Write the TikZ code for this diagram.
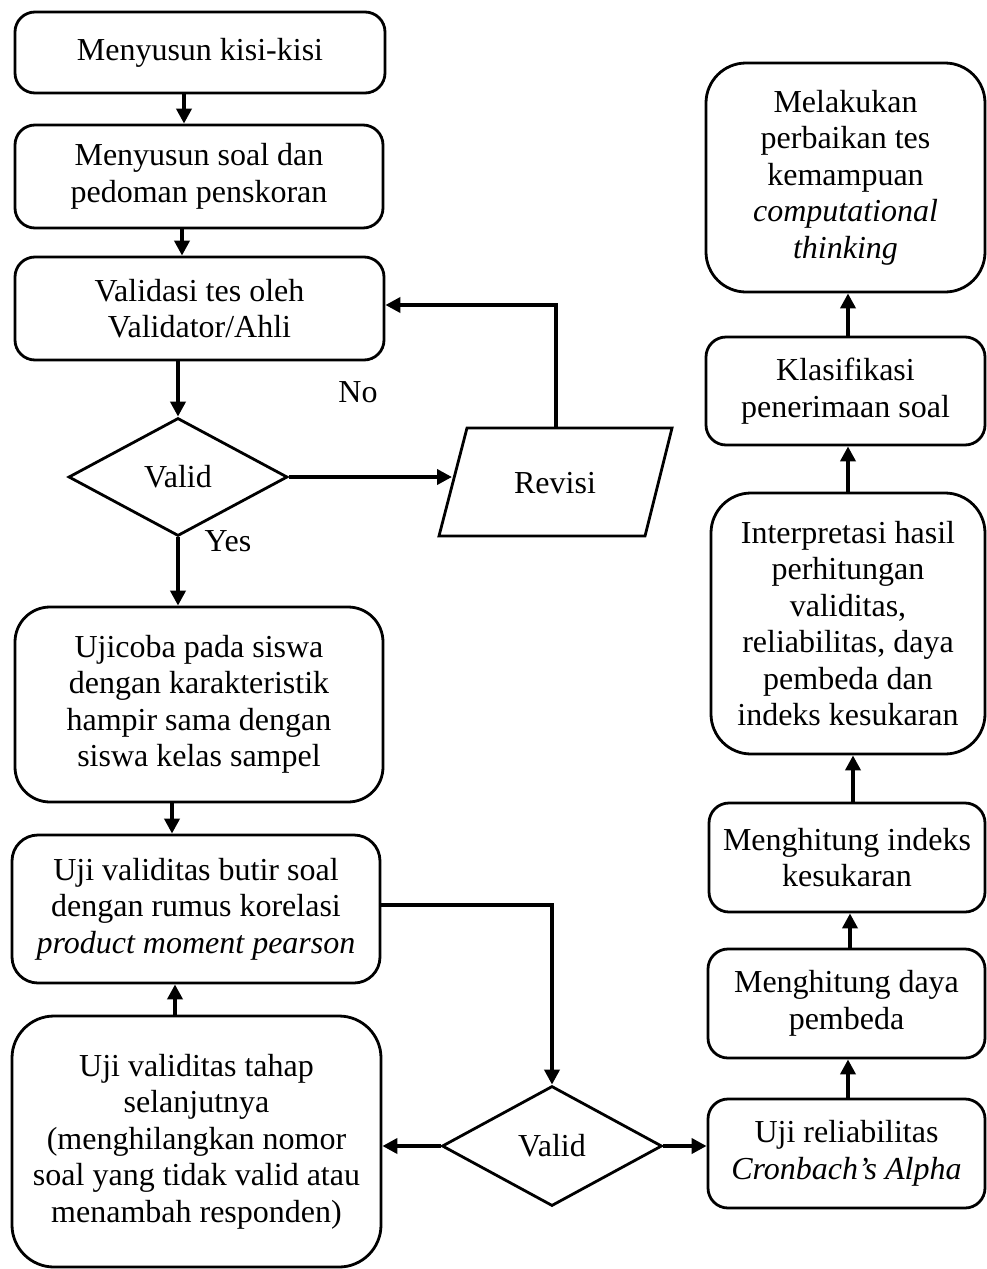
\documentclass[tikz,border=0pt]{standalone}
\usepackage{fontspec}
\setmainfont{Liberation Serif}
\usetikzlibrary{shapes.geometric,arrows.meta}
\begin{document}
\begin{tikzpicture}[x=1pt,y=-1pt,
  every node/.style={font=\fontsize{32}{36.5}\selectfont},
  box/.style={draw, line width=2.8pt, rounded corners=20pt, align=center, inner sep=0pt},
  decision/.style={draw, diamond, line width=2.8pt, inner sep=0pt},
  arr/.style={line width=3.8pt, -{Triangle[width=15pt,length=15pt]}}]
\useasboundingbox (0,0) rectangle (986,1269);

% left column
\node[box, minimum width=370pt, minimum height=81pt] (b1) at (200,52.5) {Menyusun kisi-kisi};
\node[box, minimum width=368pt, minimum height=103pt] (b2) at (199,176.5) {Menyusun soal dan\\pedoman penskoran};
\node[box, minimum width=369pt, minimum height=103pt] (b3) at (199.5,308.5) {Validasi tes oleh\\Validator/Ahli};
\node[decision, minimum width=219pt, minimum height=118pt] (d1) at (178,477) {Valid};
\node (rev) at (555,483) {Revisi};
\draw[line width=2.8pt] (467,428) -- (672,428) -- (645,536) -- (439,536) -- cycle;
\coordinate (revin) at (452,477);
\coordinate (revtop) at (556,428);
\node[box, rounded corners=35pt, minimum width=368pt, minimum height=195pt] (b4) at (199,704.5)
  {Ujicoba pada siswa\\dengan karakteristik\\hampir sama dengan\\siswa kelas sampel};
\node[box, rounded corners=26pt, minimum width=368pt, minimum height=148pt] (b5) at (196,909)
  {Uji validitas butir soal\\dengan rumus korelasi\\\textit{product moment pearson}};
\node[box, rounded corners=42pt, minimum width=369pt, minimum height=251pt] (b6) at (196.5,1141.5)
  {Uji validitas tahap\\selanjutnya\\(menghilangkan nomor\\soal yang tidak valid atau\\menambah responden)};
\node[decision, minimum width=220pt, minimum height=120pt] (d2) at (552,1146) {Valid};

% right column
\node[box, minimum width=277pt, minimum height=109pt] (b7) at (846.5,1153.5)
  {Uji reliabilitas\\\textit{Cronbach’s Alpha}};
\node[box, minimum width=277pt, minimum height=109pt] (b8) at (846.5,1003.5) {Menghitung daya\\pembeda};
\node[box, minimum width=276pt, minimum height=109pt] (b9) at (847,857.5) {Menghitung indeks\\kesukaran};
\node[box, rounded corners=40pt, minimum width=274pt, minimum height=261pt] (b10) at (848,623.5)
  {Interpretasi hasil\\perhitungan\\validitas,\\reliabilitas, daya\\pembeda dan\\indeks kesukaran};
\node[box, minimum width=279pt, minimum height=108pt] (b11) at (845.5,391) {Klasifikasi\\penerimaan soal};
\node[box, rounded corners=40pt, minimum width=279pt, minimum height=229pt] (b12) at (845.5,177.5)
  {Melakukan\\perbaikan tes\\kemampuan\\\textit{computational}\\\textit{thinking}};

% labels
\node (no) at (358,392) {No};
\node (yes) at (228,541) {Yes};

% vertical positions of the straight connectors
\coordinate (xa) at (184,0);
\coordinate (xb) at (182,0);
\coordinate (xc) at (172,0);
\coordinate (xd) at (175,0);
\coordinate (xe) at (848,0);
\coordinate (xf) at (850,0);
\coordinate (xg) at (853,0);

% connectors
\draw[arr] (b1.south -| xa) -- (b2.north -| xa);
\draw[arr] (b2.south -| xb) -- (b3.north -| xb);
\draw[arr] (b3.south -| d1.north) -- (d1.north);
\draw[arr] (d1.east) -- (revin);
\draw[arr] (revtop) |- ([yshift=3.5pt]b3.east);
\draw[arr] (d1.south) -- (d1.south |- b4.north);
\draw[arr] (b4.south -| xc) -- (b5.north -| xc);
\draw[arr] (b6.north -| xd) -- (b5.south -| xd);
\draw[arr] ([yshift=4pt]b5.east) -| (d2.north);
\draw[arr] (d2.west) -- (d2.west -| b6.east);
\draw[arr] (d2.east) -- (d2.east -| b7.west);
\draw[arr] (b7.north -| xe) -- (b8.south -| xe);
\draw[arr] (b8.north -| xf) -- (b9.south -| xf);
\draw[arr] (b9.north -| xg) -- (b10.south -| xg);
\draw[arr] (b10.north -| xe) -- (b11.south -| xe);
\draw[arr] (b11.north -| xe) -- (b12.south -| xe);
\end{tikzpicture}
\end{document}
